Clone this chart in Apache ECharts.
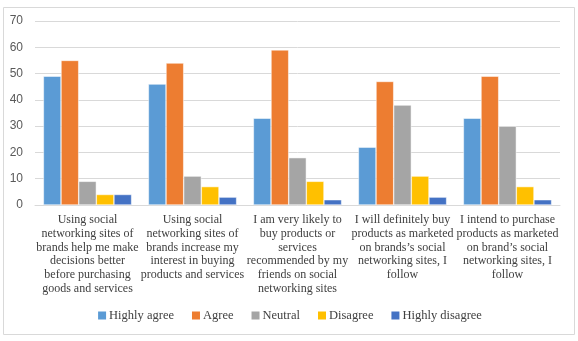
<!DOCTYPE html>
<html><head><meta charset="utf-8">
<script src="https://cdn.jsdelivr.net/npm/echarts@6/dist/echarts.min.js"></script>
<style>html,body{margin:0;padding:0;background:#fff}#c{width:578px;height:341px}</style>
</head><body><div id="c"></div>
<script>
const categories = [
  "Using social\nnetworking sites of\nbrands help me make\ndecisions better\nbefore purchasing\ngoods and services",
  "Using social\nnetworking sites of\nbrands increase my\ninterest in buying\nproducts and services",
  "I am very likely to\nbuy products or\nservices\nrecommended by my\nfriends on social\nnetworking sites",
  "I will definitely buy\nproducts as marketed\non brands’s social\nnetworking sites, I\nfollow",
  "I intend to purchase\nproducts as marketed\non brand’s social\nnetworking sites, I\nfollow"
];
const highlyAgree = [49, 46, 33, 22, 33];
const agree = [55, 54, 59, 47, 49];
const neutral = [9, 11, 18, 38, 30];
const disagree = [4, 7, 9, 11, 7];
const highlyDisagree = [4, 3, 2, 3, 2];
const seriesNames = ["Highly agree", "Agree", "Neutral", "Disagree", "Highly disagree"];
const colors = ["#5B9BD5", "#ED7D31", "#A5A5A5", "#FFC000", "#4472C4"];
const yTicks = {min: 0, max: 70, interval: 10};

const chart = echarts.init(document.getElementById('c'));
const dataSets = [highlyAgree, agree, neutral, disagree, highlyDisagree];
chart.setOption({
  animation: false,
  color: colors,
  graphic: [{type: 'rect', shape: {x: 3.5, y: 7.5, width: 571, height: 327}, style: {fill: 'none', stroke: '#d9d9d9', lineWidth: 1}, silent: true}],
  grid: {left: 35, right: 18, top: 21, bottom: 136},
  legend: {
    bottom: 14, left: 'center', itemWidth: 10, itemHeight: 10, itemGap: 16,
    icon: 'rect',
    textStyle: {fontFamily: '"Liberation Serif", "Times New Roman", serif', fontSize: 12.5, color: '#404040', padding: [0, 0, 0, -3]},
    data: seriesNames
  },
  xAxis: {
    type: 'category', data: categories,
    axisLine: {lineStyle: {color: '#d9d9d9'}},
    axisTick: {show: false},
    axisLabel: {interval: 0, fontFamily: '"Liberation Serif", "Times New Roman", serif', fontSize: 12, color: '#404040', lineHeight: 13.8, margin: 8}
  },
  yAxis: {
    type: 'value', min: yTicks.min, max: yTicks.max, interval: yTicks.interval,
    axisLine: {show: false}, axisTick: {show: false},
    splitLine: {lineStyle: {color: '#d9d9d9'}},
    axisLabel: {fontFamily: '"Liberation Sans", sans-serif', fontSize: 12, color: '#595959', margin: 12}
  },
  series: dataSets.map((d, i) => ({
    name: seriesNames[i], type: 'bar', data: d,
    barGap: '0%', barCategoryGap: '16%',
    itemStyle: {borderColor: '#fff', borderWidth: 0.5}
  }))
});
</script></body></html>
